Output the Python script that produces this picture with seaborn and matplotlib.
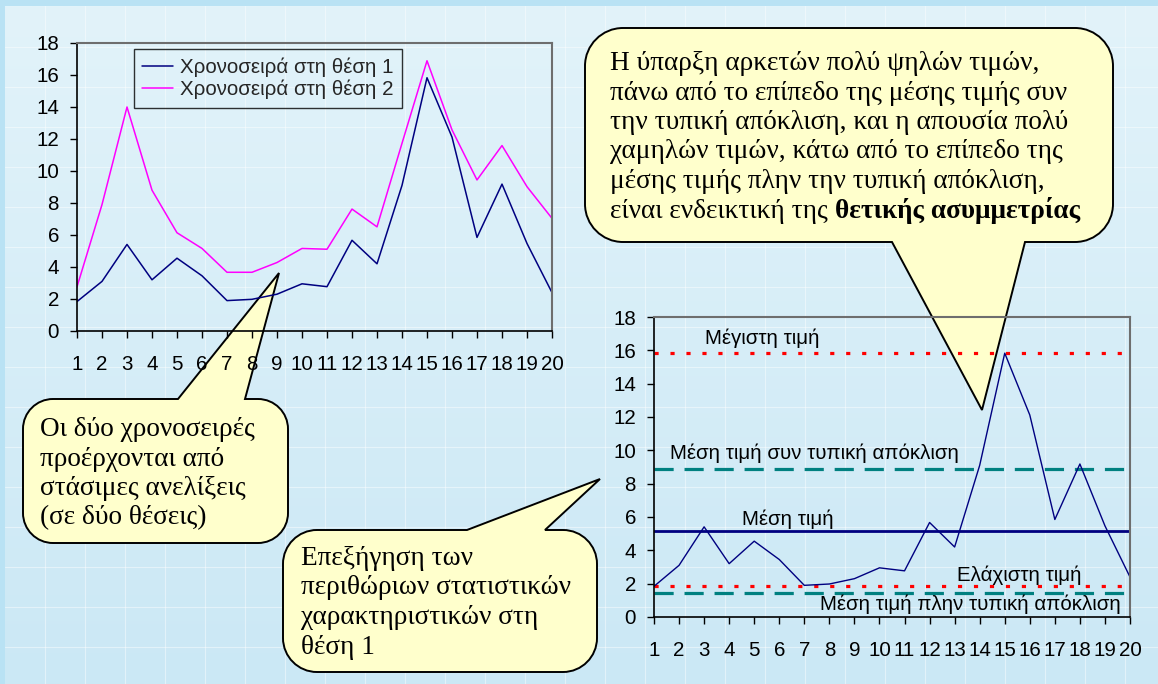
import numpy as np
import matplotlib
matplotlib.use("Agg")
import matplotlib.pyplot as plt
import seaborn as sns
from matplotlib.path import Path
from matplotlib.patches import PathPatch
from matplotlib.colors import LinearSegmentedColormap

# ---------------- data ----------------
time_index = list(range(1, 21))
series_pos1 = [1.84, 3.10, 5.41, 3.20, 4.55, 3.45, 1.90, 1.98, 2.30, 2.95,
               2.77, 5.67, 4.20, 9.10, 15.83, 12.12, 5.85, 9.18, 5.47, 2.40]
series_pos2 = [2.76, 7.90, 14.00, 8.80, 6.14, 5.16, 3.67, 3.67, 4.28, 5.16,
               5.11, 7.62, 6.51, 11.73, 16.89, 12.57, 9.44, 11.59, 9.02, 7.04]
legend_labels = ["Χρονοσειρά στη θέση 1", "Χρονοσειρά στη θέση 2"]
y_ticks = list(range(0, 19, 2))
stat_labels = ["Μέγιστη τιμή", "Μέση τιμή συν τυπική απόκλιση", "Μέση τιμή",
               "Ελάχιστη τιμή", "Μέση τιμή πλην τυπική απόκλιση"]
callout_top = ["Η ύπαρξη αρκετών πολύ ψηλών τιμών,",
               "πάνω από το επίπεδο της μέσης τιμής συν",
               "την τυπική απόκλιση, και η απουσία πολύ",
               "χαμηλών τιμών, κάτω από το επίπεδο της",
               "μέσης τιμής πλην την τυπική απόκλιση,",
               "είναι ενδεικτική της"]
callout_top_bold = "θετικής ασυμμετρίας"
callout_left = ["Οι δύο χρονοσειρές", "προέρχονται από",
                "στάσιμες ανελίξεις", "(σε δύο θέσεις)"]
callout_bottom = ["Επεξήγηση των", "περιθώριων στατιστικών",
                  "χαρακτηριστικών στη", "θέση 1"]

# ---------------- style ----------------
sns.set_theme(style="white")
plt.rcParams['font.family'] = ['Liberation Sans', 'DejaVu Sans']
SERIF = ['Liberation Serif', 'DejaVu Serif']

W, H = 1158, 684
fig = plt.figure(figsize=(W / 100, H / 100), dpi=100)
fig.patch.set_facecolor('#b9e2f4')

# background layer in pixel coordinates
bg = fig.add_axes([0, 0, 1, 1], zorder=0)
bg.set_xlim(0, W)
bg.set_ylim(H, 0)
bg.axis('off')
grad = np.linspace(0, 1, 256)[:, None]
cmap = LinearSegmentedColormap.from_list('bgc', ['#e2f3fa', '#cbe8f5'])
bg.imshow(grad, extent=[5, W, H, 6], cmap=cmap, aspect='auto', zorder=0,
          interpolation='bilinear')
for gx in range(45, W, 40):
    bg.plot([gx, gx], [6, H], color='white', alpha=0.45, lw=0.8, zorder=1)
for gy in range(47, H, 40):
    bg.plot([5, W], [gy, gy], color='white', alpha=0.45, lw=0.8, zorder=1)


def callout(x0, y0, x1, y1, r, side, ba, bb, apex):
    k = 0.5523 * r
    V, C = [], []

    def mv(p):
        V.append(p); C.append(Path.MOVETO)

    def ln(p):
        V.append(p); C.append(Path.LINETO)

    def cv(p1, p2, p3):
        V.extend([p1, p2, p3]); C.extend([Path.CURVE4] * 3)

    mv((x0 + r, y0))
    if side == 'top':
        ln((ba, y0)); ln(apex); ln((bb, y0))
    ln((x1 - r, y0))
    cv((x1 - r + k, y0), (x1, y0 + r - k), (x1, y0 + r))
    ln((x1, y1 - r))
    cv((x1, y1 - r + k), (x1 - r + k, y1), (x1 - r, y1))
    if side == 'bottom':
        ln((bb, y1)); ln(apex); ln((ba, y1))
    ln((x0 + r, y1))
    cv((x0 + r - k, y1), (x0, y1 - r + k), (x0, y1 - r))
    ln((x0, y0 + r))
    cv((x0, y0 + r - k), (x0 + r - k, y0), (x0 + r, y0))
    V.append((x0 + r, y0)); C.append(Path.CLOSEPOLY)
    bg.add_patch(PathPatch(Path(V, C), facecolor='#ffffcc', edgecolor='black',
                           lw=1.4, zorder=3, joinstyle='miter'))


callout(585, 28, 1113, 242, 38, 'bottom', 892, 1025, (982, 410))
callout(23, 399, 288, 543, 30, 'top', 178, 245, (279, 273))
callout(283, 530, 597, 672, 34, 'top', 467, 545, (600, 479))

CFS = 19.6
LS = 29.5


def lines_text(lines, x, y0):
    out = []
    for i, s in enumerate(lines):
        out.append(bg.text(x, y0 + i * LS, s, fontsize=CFS, family=SERIF,
                           color='black', va='baseline', ha='left', zorder=4))
    return out


top_texts = lines_text(callout_top, 610, 70)
lines_text(callout_left, 40, 436)
lines_text(callout_bottom, 301, 565)

# ---------------- left chart ----------------
TFS = 14.8
ax1 = fig.add_axes([77 / W, 1 - 331 / H, (552 - 77) / W, (331 - 43) / H], zorder=2)
ax1.set_facecolor('none')
sns.lineplot(x=time_index, y=series_pos1, ax=ax1, color='#000080', lw=1.1,
             label=legend_labels[0])
sns.lineplot(x=time_index, y=series_pos2, ax=ax1, color='#ff00ff', lw=1.1,
             label=legend_labels[1])

# ---------------- right chart ----------------
ax2 = fig.add_axes([654 / W, 1 - 617 / H, (1130 - 654) / W, (617 - 317) / H], zorder=2)
ax2.set_facecolor('none')
s1 = np.array(series_pos1)
v_max, v_min = s1.max(), s1.min()
v_mean, v_std = s1.mean(), s1.std(ddof=1)
ax2.axhline(v_max, color='#ff0000', lw=2.3, dashes=(1.3, 3.7))
ax2.axhline(v_min, color='#ff0000', lw=2.3, dashes=(1.3, 3.7))
ax2.axhline(v_mean + v_std, color='#008080', lw=2.3, dashes=(6, 3.4))
ax2.axhline(v_mean - v_std, color='#008080', lw=2.3, dashes=(6, 3.4))
ax2.axhline(v_mean, color='#000080', lw=2.0)
sns.lineplot(x=time_index, y=series_pos1, ax=ax2, color='#000080', lw=1.0)

label_pos = [(3.04, 16.7), (1.64, 9.8), (4.51, 5.88), (13.1, 2.52), (7.63, 0.78)]
for (lx, ly), s in zip(label_pos, stat_labels):
    ax2.text(lx, ly, s, fontsize=TFS, va='center', ha='left', color='black')

for ax in (ax1, ax2):
    ax.set_xlim(1, 20)
    ax.set_ylim(0, 18)
    ax.set_xticks(time_index)
    ax.set_yticks(y_ticks)
    ax.set_xlabel('')
    ax.set_ylabel('')
    ax.grid(False)
    ax.tick_params(axis='x', bottom=True, direction='out', length=5, width=1,
                   color='black', pad=12, labelsize=TFS, labelcolor='black')
    ax.tick_params(axis='y', left=True, direction='out', length=5, width=1,
                   color='black', pad=8, labelsize=TFS, labelcolor='black')
    for sp in ('left', 'bottom'):
        ax.spines[sp].set_color('black')
        ax.spines[sp].set_linewidth(1.2)
    for sp in ('top', 'right'):
        ax.spines[sp].set_color('#6e6e6e')
        ax.spines[sp].set_linewidth(1.5)

if ax2.get_legend() is not None:
    ax2.get_legend().remove()
leg = ax1.legend(loc='upper left', bbox_to_anchor=(134 / W, 1 - 49 / H),
                 bbox_transform=fig.transFigure, borderaxespad=0, fontsize=TFS,
                 frameon=True, fancybox=False, facecolor='none', edgecolor='black',
                 handlelength=1.5, handletextpad=0.35, borderpad=0.4,
                 labelspacing=0.15)
leg.get_frame().set_linewidth(1.0)

# bold continuation of last line in top callout
fig.canvas.draw()
rend = fig.canvas.get_renderer()
ext = top_texts[-1].get_window_extent(rend)
x_end = bg.transData.inverted().transform((ext.x1, ext.y0))[0]
bg.text(x_end + 0.25 * CFS * 100 / 72, 70 + 5 * LS, callout_top_bold,
        fontsize=CFS, family=SERIF, fontweight='bold', color='black',
        va='baseline', ha='left', zorder=4)

fig.savefig('out.png', dpi=100, facecolor=fig.get_facecolor())
